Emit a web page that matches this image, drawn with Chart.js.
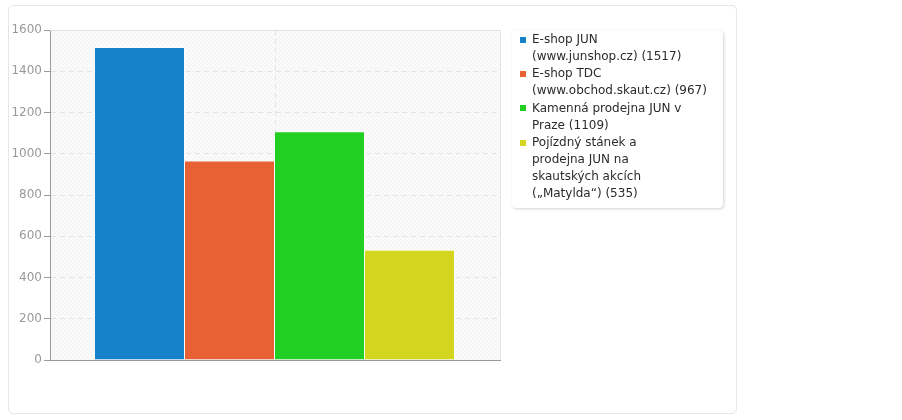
<!DOCTYPE html>
<html>
<head>
<meta charset="utf-8">
<script src="https://cdn.jsdelivr.net/npm/chart.js@4.4.1/dist/chart.umd.min.js"></script>
<style>
  html, body { margin: 0; padding: 0; background: #ffffff; }
  #wrap { position: relative; width: 902px; height: 420px; }
  #card { position: absolute; left: 8px; top: 5px; width: 727px; height: 407px;
          border: 1px solid #e6e6e6; border-radius: 5px; background: #fff; }
  #c { position: absolute; left: 0; top: 0; }
</style>
</head>
<body>
<div id="wrap">
  <div id="card"></div>
  <canvas id="c" width="902" height="420"></canvas>
</div>
<script>
// ---- data ----
const categories = [''];
const seriesNames = [
  'E-shop JUN (www.junshop.cz)',
  'E-shop TDC (www.obchod.skaut.cz)',
  'Kamenná prodejna JUN v Praze',
  'Pojízdný stánek a prodejna JUN na skautských akcích („Matylda“)'
];
const seriesValues = [1517, 967, 1109, 535];
const seriesColors = ['#1582c9', '#e86135', '#22cf23', '#d4d51f'];
const legendLines = [
  ['E-shop JUN', '(www.junshop.cz) (1517)'],
  ['E-shop TDC', '(www.obchod.skaut.cz) (967)'],
  ['Kamenná prodejna JUN v', 'Praze (1109)'],
  ['Pojízdný stánek a', 'prodejna JUN na', 'skautských akcích', '(„Matylda“) (535)']
];
const yTicks = [0, 200, 400, 600, 800, 1000, 1200, 1400, 1600];

const FONT = '"DejaVu Sans", sans-serif';

function makePattern(ctx) {
  const t = document.createElement('canvas');
  t.width = 4; t.height = 4;
  const g = t.getContext('2d');
  g.fillStyle = '#fbfbfb';
  g.fillRect(0, 0, 4, 4);
  g.fillStyle = '#f1f1f1';
  for (let i = 0; i < 4; i++) g.fillRect(i, 3 - i, 1, 1);
  return ctx.createPattern(t, 'repeat');
}

const bgPlugin = {
  id: 'bg',
  beforeDraw(chart) {
    const {ctx, chartArea: a} = chart;
    ctx.save();
    ctx.fillStyle = makePattern(ctx);
    ctx.fillRect(a.left, a.top, a.right - a.left, a.bottom - a.top);
    ctx.restore();
  },
  beforeDatasetsDraw(chart) {
    const {ctx, chartArea: a} = chart;
    ctx.save();
    ctx.strokeStyle = '#e2e2e2';
    ctx.lineWidth = 1;
    ctx.beginPath();
    ctx.moveTo(a.left, Math.round(a.top) + 0.5);
    ctx.lineTo(a.right + 0.5, Math.round(a.top) + 0.5);
    ctx.lineTo(a.right + 0.5, a.bottom);
    ctx.stroke();
    ctx.restore();
  }
};

const legendPlugin = {
  id: 'sideLegend',
  afterDraw(chart) {
    const ctx = chart.ctx;
    const bx = 512, by = 30, bw = 211, bh = 178;
    ctx.save();
    ctx.shadowColor = 'rgba(0,0,0,0.18)';
    ctx.shadowBlur = 3;
    ctx.shadowOffsetX = 1;
    ctx.shadowOffsetY = 1;
    ctx.fillStyle = '#ffffff';
    ctx.beginPath();
    ctx.roundRect(bx, by, bw, bh, 4);
    ctx.fill();
    ctx.restore();

    ctx.save();
    ctx.font = '12px ' + FONT;
    ctx.textBaseline = 'middle';
    ctx.textAlign = 'left';
    const lh = 17.1;
    let line = 0;
    const y0 = 40;
    legendLines.forEach((lines, i) => {
      const cy = y0 + line * lh;
      ctx.fillStyle = seriesColors[i];
      ctx.fillRect(520, Math.round(cy) - 3, 6, 6);
      ctx.fillStyle = '#2b2b2b';
      lines.forEach((txt, k) => {
        ctx.fillText(txt, 532, y0 + (line + k) * lh);
      });
      line += lines.length;
    });
    ctx.restore();
  }
};

const datasets = seriesNames.map((name, i) => ({
  label: name,
  data: [seriesValues[i]],
  backgroundColor: seriesColors[i],
  borderColor: 'rgba(255,255,255,0.6)',
  borderWidth: { top: 1, right: 1, left: 0, bottom: 0 },
  borderSkipped: false,
  categoryPercentage: 0.8,
  barPercentage: 1.0
}));

new Chart(document.getElementById('c'), {
  type: 'bar',
  data: { labels: categories, datasets },
  options: {
    responsive: false,
    animation: false,
    devicePixelRatio: 1,
    layout: { padding: { left: 0, top: 30, right: 402, bottom: 60 } },
    plugins: { legend: { display: false }, tooltip: { enabled: false }, title: { display: false } },
    scales: {
      x: {
        offset: true,
        grid: { offset: false, color: '#e4e4e4', drawTicks: false, lineWidth: 1 },
        border: { color: '#9a9a9a', dash: [5, 4] },
        ticks: { display: false },
        afterFit(scale) { scale.height = 0; }
      },
      y: {
        min: 0, max: 1600,
        afterBuildTicks(scale) { scale.ticks = yTicks.map(v => ({ value: v })); },
        grid: { color: (c) => c.tick && c.tick.value === 1600 ? 'rgba(0,0,0,0)' : '#e4e4e4',
                tickColor: '#9a9a9a', tickLength: 6, tickBorderDash: [] },
        border: { color: '#9a9a9a', dash: [5, 4] },
        ticks: { color: '#999999', font: { family: FONT, size: 12 }, padding: 2,
                 callback: (v) => String(v) },
        afterFit(scale) { scale.width = 50; }
      }
    }
  },
  plugins: [bgPlugin, legendPlugin]
});
</script>
</body>
</html>
